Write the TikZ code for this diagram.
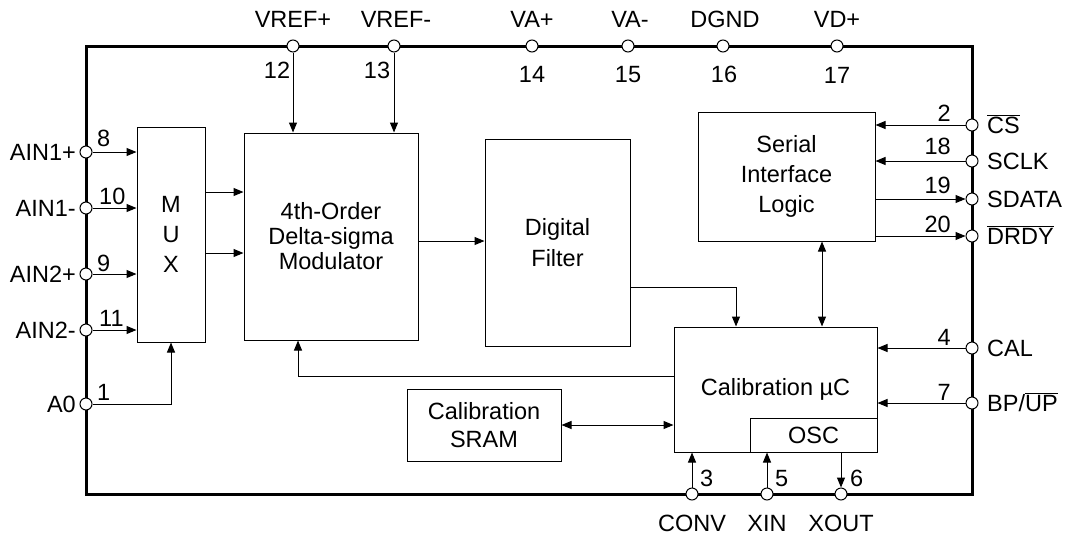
\documentclass[tikz,border=0pt]{standalone}
\usepackage{fontspec}
\setmainfont{Liberation Sans}
\usetikzlibrary{arrows.meta,calc}
\newcommand{\ovl}[1]{$\overline{\mbox{#1}}$}
\begin{document}
\begin{tikzpicture}[x=1pt,y=-1pt,
  every node/.style={font=\fontsize{23.5}{28}\selectfont},
  blk/.style={draw, line width=1pt, inner sep=0pt, align=center},
  pincirc/.style={circle, draw, fill=white, line width=1pt, minimum size=12pt, inner sep=0pt},
  arr/.style={line width=1pt, -{Triangle[length=10pt,width=8pt]}},
  darr/.style={line width=1pt, {Triangle[length=10pt,width=8pt]}-{Triangle[length=10pt,width=8pt]}},
  ln/.style={line width=1pt},
  lbl/.style={inner sep=0pt}]
\useasboundingbox (0,0) rectangle (1078,536);
\draw[line width=3pt] (86,46) rectangle (972,494);

% blocks
\node[blk, minimum width=68pt, minimum height=215pt] (mux) at (171,234.5) {M\\[2pt]U\\[2pt]X};
\node[blk, minimum width=174pt, minimum height=207pt, font=\fontsize{23.5}{25}\selectfont] (mod) at (331,236.5) {4th-Order\\Delta-sigma\\Modulator};
\node[blk, minimum width=145pt, minimum height=207pt, font=\fontsize{23.5}{31}\selectfont] (filt) at (557.5,242.5) {Digital\\Filter};
\node[blk, minimum width=177pt, minimum height=129pt, font=\fontsize{23.5}{30}\selectfont] (ser) at (786.5,176.5) {Serial\\Interface\\Logic};
\node[blk, minimum width=203pt, minimum height=125pt] (cal) at (775.5,389.5) {Calibration µC};
\node[blk, minimum width=127pt, minimum height=34pt, anchor=south east] (osc) at (cal.south east) {OSC};
\node[blk, minimum width=154pt, minimum height=72pt] (sram) at (484,425) {Calibration\\SRAM};

% helper coordinates
\coordinate (y192) at (0,192);
\coordinate (y253) at (0,253);
\coordinate (y241) at (0,241);
\coordinate (x822) at (822,0);
\coordinate (fbturn) at (298,376);
\coordinate (ft) at (736,287);

% pins
\node[pincirc] (vrefp) at (293,46) {};
\node[pincirc] (vrefm) at (394,46) {};
\node[pincirc] (vap) at (532,46) {};
\node[pincirc] (vam) at (628,46) {};
\node[pincirc] (dgnd) at (723,46) {};
\node[pincirc] (vdp) at (837,46) {};
\node[pincirc] (ain1p) at (86,152) {};
\node[pincirc] (ain1m) at (86,208) {};
\node[pincirc] (ain2p) at (86,274) {};
\node[pincirc] (ain2m) at (86,330) {};
\node[pincirc] (a0) at (86,404) {};
\node[pincirc] (cs) at (972,125) {};
\node[pincirc] (sclk) at (972,161) {};
\node[pincirc] (sdata) at (972,199) {};
\node[pincirc] (drdy) at (972,236) {};
\node[pincirc] (calp) at (972,348) {};
\node[pincirc] (bpup) at (972,403) {};
\node[pincirc] (conv) at (692,494) {};
\node[pincirc] (xin) at (767,494) {};
\node[pincirc] (xout) at (841,494) {};

% pin names
\node[lbl, anchor=base] at (293,27) {VREF+};
\node[lbl, anchor=base] at (396,27) {VREF-};
\node[lbl, anchor=base] at (532,27) {VA+};
\node[lbl, anchor=base] at (630,27) {VA-};
\node[lbl, anchor=base] at (725,27) {DGND};
\node[lbl, anchor=base] at (837,27) {VD+};
\node[lbl, anchor=base east] at (76,160) {AIN1+};
\node[lbl, anchor=base east] at (76,216) {AIN1-};
\node[lbl, anchor=base east] at (76,282) {AIN2+};
\node[lbl, anchor=base east] at (76,338) {AIN2-};
\node[lbl, anchor=base east] at (76,412) {A0};
\node[lbl, anchor=base west] at (987,133) {\ovl{CS}};
\node[lbl, anchor=base west] at (987,169) {SCLK};
\node[lbl, anchor=base west] at (987,207) {SDATA};
\node[lbl, anchor=base west] at (987,244) {\ovl{DRDY}};
\node[lbl, anchor=base west] at (987,356) {CAL};
\node[lbl, anchor=base west] at (987,411) {BP/\ovl{UP}};
\node[lbl, anchor=base] at (692,531) {CONV};
\node[lbl, anchor=base] at (767,531) {XIN};
\node[lbl, anchor=base] at (841,531) {XOUT};

% pin numbers
\node[lbl, anchor=base] at (277,78) {12};
\node[lbl, anchor=base] at (377,78) {13};
\node[lbl, anchor=base] at (532,82) {14};
\node[lbl, anchor=base] at (628,82) {15};
\node[lbl, anchor=base] at (724,82) {16};
\node[lbl, anchor=base] at (837,83) {17};
\node[lbl, anchor=base west] at (97,146) {8};
\node[lbl, anchor=base west] at (99,204) {10};
\node[lbl, anchor=base west] at (97,271) {9};
\node[lbl, anchor=base west] at (99,326) {11};
\node[lbl, anchor=base west] at (97,400) {1};
\node[lbl, anchor=base east] at (951,121) {2};
\node[lbl, anchor=base east] at (951,154) {18};
\node[lbl, anchor=base east] at (951,193) {19};
\node[lbl, anchor=base east] at (951,232) {20};
\node[lbl, anchor=base east] at (951,345) {4};
\node[lbl, anchor=base east] at (951,400) {7};
\node[lbl, anchor=base west] at (700,486) {3};
\node[lbl, anchor=base west] at (775,486) {5};
\node[lbl, anchor=base west] at (850,486) {6};

% connectors
\draw[arr] (ain1p) -- (ain1p -| mux.west);
\draw[arr] (ain1m) -- (ain1m -| mux.west);
\draw[arr] (ain2p) -- (ain2p -| mux.west);
\draw[arr] (ain2m) -- (ain2m -| mux.west);
\draw[arr] (a0) -| (mux.south);
\draw[arr] (mux.east |- y192) -- (mod.west |- y192);
\draw[arr] (mux.east |- y253) -- (mod.west |- y253);
\draw[arr] (vrefp) -- (vrefp |- mod.north);
\draw[arr] (vrefm) -- (vrefm |- mod.north);
\draw[arr] (mod.east |- y241) -- (filt.west |- y241);
\draw[arr] (filt.east |- ft) -- (ft) -- (ft |- cal.north);
\draw[arr] (cal.west |- fbturn) -- (fbturn) -- (fbturn |- mod.south);
\draw[darr] (sram.east) -- (sram.east -| cal.west);
\draw[darr] (ser.south -| x822) -- (cal.north -| x822);
\draw[arr] (cs) -- (cs -| ser.east);
\draw[arr] (sclk) -- (sclk -| ser.east);
\draw[arr] (ser.east |- sdata) -- (sdata);
\draw[arr] (ser.east |- drdy) -- (drdy);
\draw[arr] (calp) -- (calp -| cal.east);
\draw[arr] (bpup) -- (bpup -| cal.east);
\draw[arr] (conv) -- (conv |- cal.south);
\draw[arr] (xin) -- (xin |- cal.south);
\draw[arr] (xout |- osc.south) -- (xout);
\end{tikzpicture}
\end{document}
